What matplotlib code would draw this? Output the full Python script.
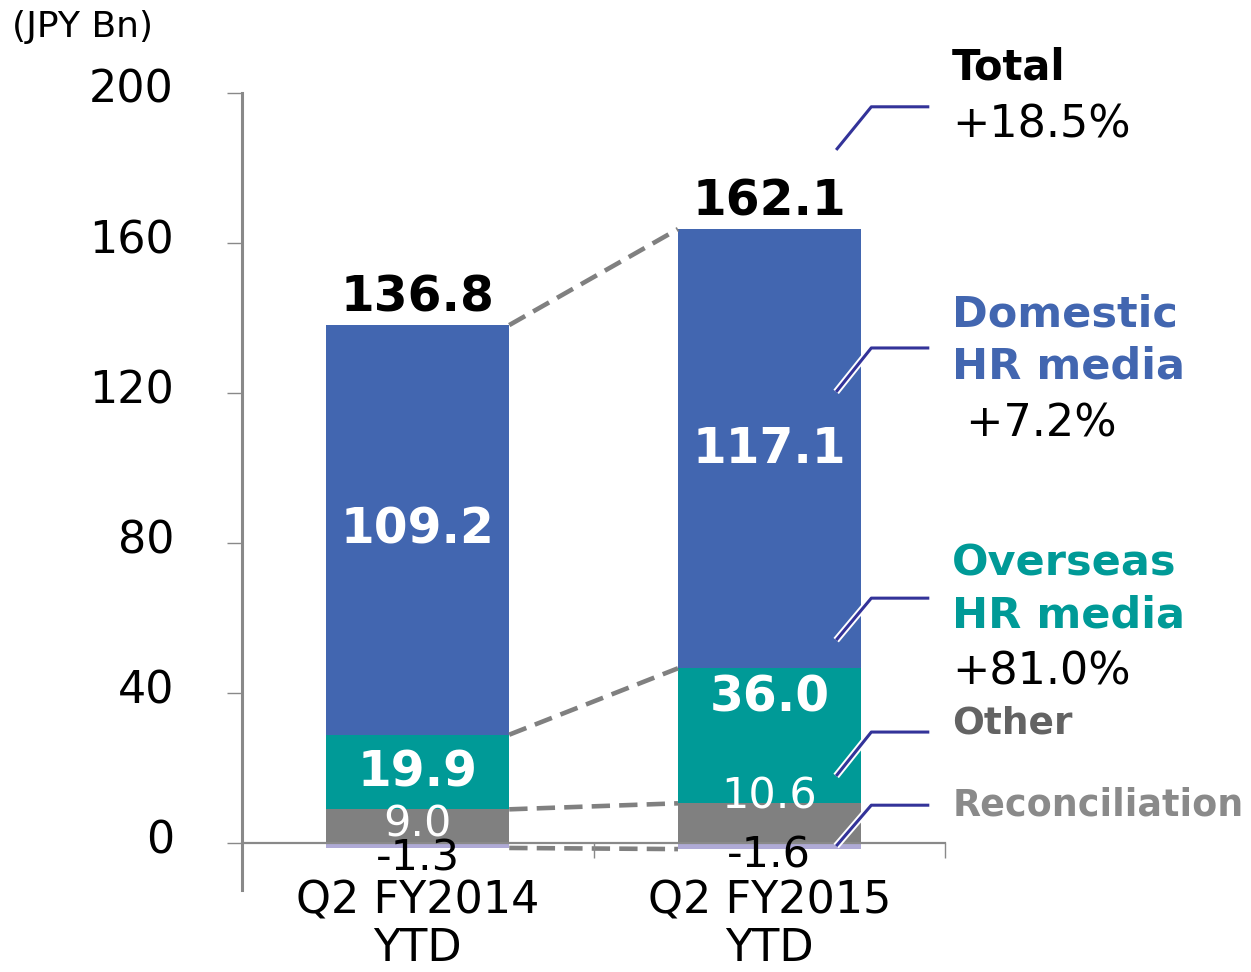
import numpy as np
import matplotlib
matplotlib.use("Agg")
import matplotlib.pyplot as plt
import matplotlib.patheffects as pe
from matplotlib.transforms import ScaledTranslation

plt.rcParams['font.family'] = ['DejaVu Sans']

# data
periods = ["Q2 FY2014\nYTD", "Q2 FY2015\nYTD"]
other = [9.0, 10.6]
overseas = [19.9, 36.0]
domestic = [109.2, 117.1]
reconciliation = [-1.3, -1.6]
totals = [136.8, 162.1]
growth = ["+18.5%", " +7.2%", "+81.0%"]

c_dom = "#4266B0"
c_ovs = "#009A97"
c_oth = "#808080"
c_rec = "#AFAAD6"
c_axis = "#898989"
c_call = "#333399"

fig = plt.figure(figsize=(12.51, 9.72), dpi=100)
ax = fig.add_axes([0.1935, 0.0844, 0.5620, 0.8200])

x = np.arange(len(periods))
w = 0.52
other = np.array(other)
overseas = np.array(overseas)
domestic = np.array(domestic)
reconciliation = np.array(reconciliation)

ax.bar(x, other, w, color=c_oth, linewidth=0)
ax.bar(x, overseas, w, bottom=other, color=c_ovs, linewidth=0)
ax.bar(x, domestic, w, bottom=other + overseas, color=c_dom, linewidth=0)
ax.bar(x, reconciliation, w, color=c_rec, linewidth=0)

# dashed connectors between the bars
levels = [other, other + overseas, other + overseas + domestic, reconciliation]
for lv in levels:
    ax.plot([x[0] + w / 2, x[1] - w / 2], [lv[0], lv[1]], color="#808080",
            lw=3.3, linestyle=(0, (4, 2)), zorder=1, solid_capstyle="butt")

# value labels
tops = other + overseas + domestic
for i in x:
    ax.text(i, tops[i] + 3.5, f"{totals[i]:.1f}", ha="center", va="baseline",
            fontsize=35, fontweight="bold", color="black")
    ax.text(i, other[i] + overseas[i] + domestic[i] / 2, f"{domestic[i]:.1f}",
            ha="center", va="center", fontsize=35, fontweight="bold", color="white")
ax.text(x[0], other[0] + overseas[0] / 2, f"{overseas[0]:.1f}", ha="center",
        va="center", fontsize=35, fontweight="bold", color="white")
ax.text(x[1], other[1] + overseas[1] / 2 + 10.3, f"{overseas[1]:.1f}", ha="center",
        va="center", fontsize=35, fontweight="bold", color="white")
ax.text(x[0], other[0] / 2 + 0.4, f"{other[0]:.1f}", ha="center", va="center",
        fontsize=31, color="white")
ax.text(x[1], other[1] / 2 + 7.0, f"{other[1]:.1f}", ha="center", va="center",
        fontsize=31, color="white")
ax.text(x[0], -4.0, f"{reconciliation[0]:.1f}", ha="center", va="center",
        fontsize=31, color="black")
ax.text(x[1], -3.2, f"{reconciliation[1]:.1f}", ha="center", va="center",
        fontsize=31, color="black")

# axes styling
ax.set_xlim(-0.5, 1.5)
ax.set_ylim(-12.5, 200)
ax.spines["top"].set_visible(False)
ax.spines["right"].set_visible(False)
ax.spines["bottom"].set_position(("data", 0))
ax.spines["bottom"].set_color(c_axis)
ax.spines["bottom"].set_linewidth(1.6)
ax.spines["left"].set_color(c_axis)
ax.spines["left"].set_linewidth(2.2)

ax.set_yticks([0, 40, 80, 120, 160, 200])
ax.tick_params(axis="y", direction="out", length=11, width=1, color=c_axis,
               labelsize=32, pad=38)
shift = ScaledTranslation(0, 5 / 72, fig.dpi_scale_trans)
for lbl in ax.get_yticklabels():
    lbl.set_transform(lbl.get_transform() + shift)
ax.set_xticks(x)
ax.set_xticklabels(periods)
ax.set_xticks([-0.5, 0.5, 1.5], minor=True)
ax.tick_params(axis="x", which="major", length=0, labelsize=32, pad=26)
ax.tick_params(axis="x", which="minor", direction="out", length=11, width=1,
               color=c_axis)
for lbl in ax.get_xticklabels():
    lbl.set_linespacing(1.13)

fig.text(12 / 1251, 1 - 27 / 972, "(JPY Bn)", fontsize=26, va="center", ha="left")

# callout lines, (start y, elbow y) in data units
callouts = [(184.8, 196.3, False), (120.3, 132.0, True), (54.1, 65.3, True),
            (17.9, 29.6, True), (-0.8, 10.1, True)]
for y0, y1, outline in callouts:
    eff = [pe.Stroke(linewidth=5, foreground="white"), pe.Normal()] if outline else []
    ax.plot([1.19, 1.29, 1.455], [y0, y1, y1], color=c_call, lw=2.2,
            clip_on=False, path_effects=eff, zorder=5, solid_capstyle="butt")

tx = 1.52
ax.text(tx, 206.7, "Total", fontsize=30, fontweight="bold", va="center",
        clip_on=False)
ax.text(tx, 191.5, growth[0], fontsize=32, va="center", clip_on=False)
ax.text(tx, 134.0, "Domestic\nHR media", fontsize=31, fontweight="bold",
        color=c_dom, va="center", linespacing=1.28, clip_on=False)
ax.text(tx, 111.7, growth[1], fontsize=32, va="center", clip_on=False)
ax.text(tx, 67.6, "Overseas\nHR media", fontsize=31, fontweight="bold",
        color=c_ovs, va="center", linespacing=1.28, clip_on=False)
ax.text(tx, 45.6, growth[2], fontsize=32, va="center", clip_on=False)
ax.text(tx, 32.0, "Other", fontsize=27, fontweight="bold", color="#636363",
        va="center", clip_on=False)
ax.text(tx, 10.1, "Reconciliation", fontsize=26.3, fontweight="bold",
        color="#8A8A8A", va="center", clip_on=False)

fig.savefig("out.png", dpi=100)
